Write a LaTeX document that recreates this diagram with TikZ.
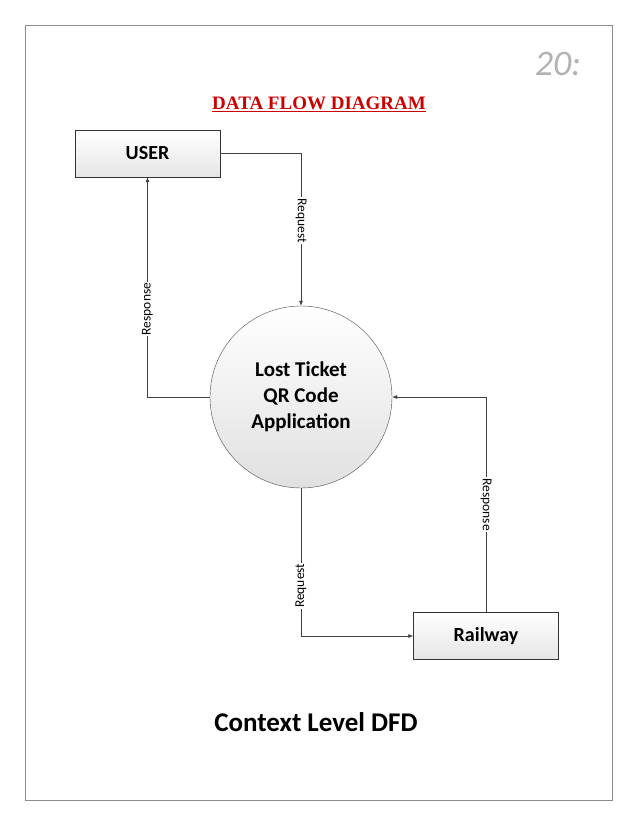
\documentclass[tikz,border=0pt]{standalone}
\usepackage{fontspec}
\setmainfont{Carlito}
\newfontfamily\titlefont{Liberation Serif}
\usepackage{tikz}
\usetikzlibrary{arrows.meta,calc}

\begin{document}
\begin{tikzpicture}[x=1pt, y=1pt,
    entity/.style={rectangle, draw=black!80, top color=white, bottom color=black!10, minimum width=145pt, minimum height=47pt, font=\bfseries\fontsize{20}{24}\selectfont},
    process/.style={circle, draw=black!70, top color=white, bottom color=black!12, minimum size=182pt, align=center, font=\bfseries\fontsize{21}{26}\selectfont},
    flow/.style={-{Latex[length=5pt,width=4pt]}, draw=black!75, line width=0.6pt},
    flowlabel/.style={fill=white, inner sep=1pt, font=\fontsize{13.5}{15}\selectfont}
]
\useasboundingbox (0,0) rectangle (638,-826);
\draw[black!45, line width=0.8pt] (25,-25) rectangle (612,-800);

% Page header
\node[text=black!30, font=\itshape\fontsize{36}{38}\selectfont] (pagenum) at (558,-64) {20:};
\node[text=red!80!black, font=\titlefont\bfseries\fontsize{19}{21}\selectfont] (title) at (319,-104) {\underline{DATA FLOW DIAGRAM}};

% Entities and process
\node[entity] (user) at (147.5,-153.5) {USER};
\node[process] (app) at (301,-397) {Lost Ticket\\QR Code\\Application};
\node[entity] (rail) at (486,-636) {Railway};

% Flows
\draw[flow] (user.east) -| node[flowlabel, rotate=-90, pos=0.72] {Request} (app.north);
\draw[flow] (app.west) -| node[flowlabel, rotate=90, pos=0.7] {Response} (user.south);
\draw[flow] (app.south) |- node[flowlabel, rotate=90, pos=0.33] {Request} (rail.west);
\draw[flow] (rail.north) |- node[flowlabel, rotate=-90, pos=0.25] {Response} (app.east);

% Caption
\node[font=\bfseries\fontsize{27}{31}\selectfont] (caption) at (316,-722) {Context Level DFD};
\end{tikzpicture}
\end{document}
